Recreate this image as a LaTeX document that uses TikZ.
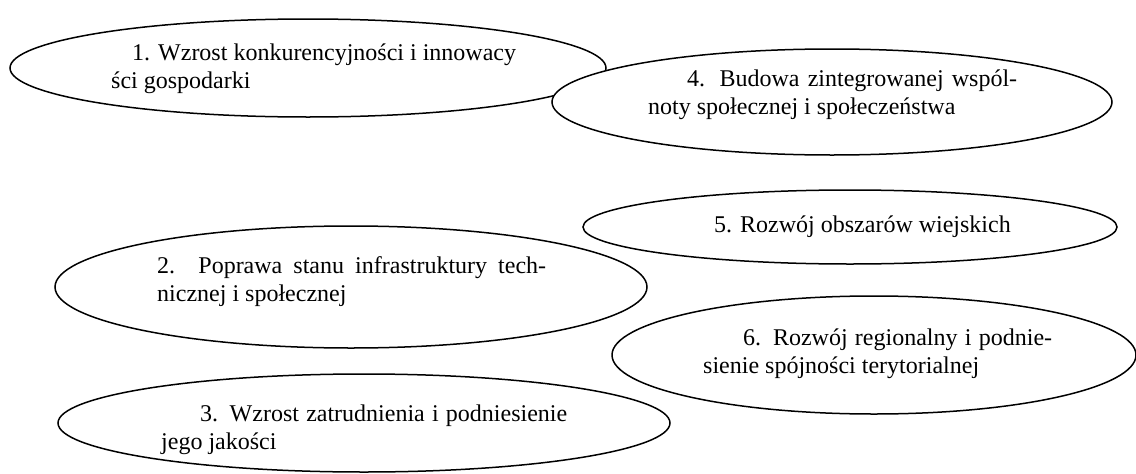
\documentclass[tikz,border=0pt]{standalone}
\usepackage{fontspec}
\setmainfont{Liberation Serif}
\usetikzlibrary{shapes.geometric}
\begin{document}
\begin{tikzpicture}[x=1pt,y=-1pt,
    goal/.style={draw,ellipse,fill=white,line width=1.5pt,inner sep=0pt},
    goaltext/.style={anchor=base west,align=left,inner sep=0pt,font=\fontsize{24}{28}\selectfont}]
  \useasboundingbox (0,0) rectangle (1136,474);
  %% upper row
  \node[goal,minimum width=596,minimum height=98] (c1) at (308,68) {};
  \node[goaltext] (t1) at (111,88) {\hspace*{21pt}1. Wzrost konkurencyjności i innowacy\\ści gospodarki};
  \node[goal,minimum width=560,minimum height=106] (c4) at (832,102) {};
  \node[goaltext] (t4) at (648,114) {\makebox[369pt][s]{\hspace*{39pt}4. Budowa zintegrowanej wspól-}\\noty społecznej i społeczeństwa};
  %% middle row
  \node[goal,minimum width=534,minimum height=74] (c5) at (850,227) {};
  \node[goaltext] (t5) at (714,232) {5. Rozwój obszarów wiejskich};
  \node[goal,minimum width=592,minimum height=122] (c2) at (351,287) {};
  \node[goaltext] (t2) at (157,301) {\makebox[389pt][s]{2. Poprawa stanu infrastruktury tech-}\\nicznej i społecznej};
  %% lower row
  \node[goal,minimum width=524,minimum height=118] (c6) at (874,355) {};
  \node[goaltext] (t6) at (703,373) {\makebox[349pt][s]{\hspace*{40pt}6. Rozwój regionalny i podnie-}\\sienie spójności terytorialnej};
  \node[goal,minimum width=612,minimum height=98] (c3) at (364,423) {};
  \node[goaltext] (t3) at (161,449) {\makebox[406pt][s]{\hspace*{39pt}3. Wzrost zatrudnienia i podniesienie}\\jego jakości};
\end{tikzpicture}
\end{document}
